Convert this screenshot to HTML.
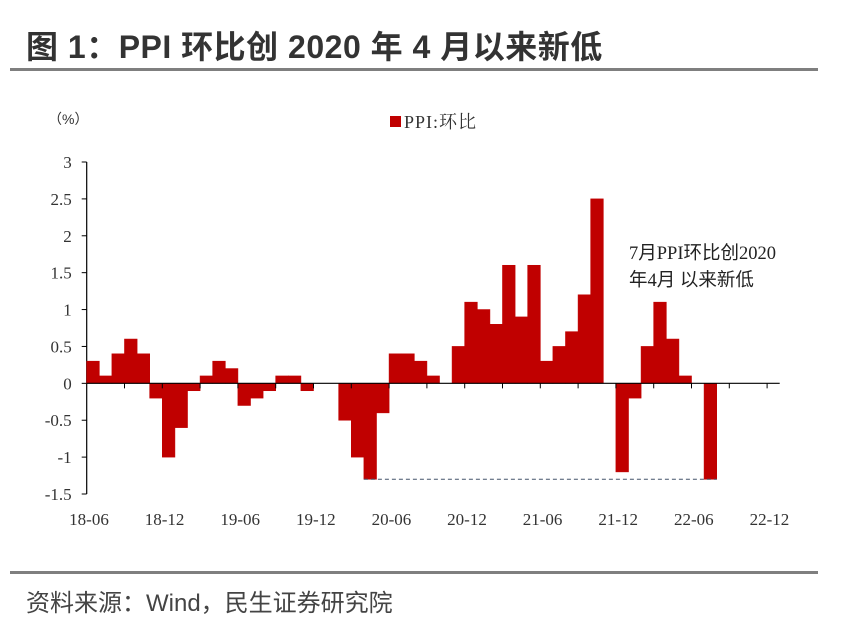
<!DOCTYPE html>
<html><head><meta charset="utf-8"><style>
body{margin:0;background:#fff;width:860px;height:627px;overflow:hidden;font-family:"Liberation Sans","Noto Sans CJK SC",sans-serif}
</style></head><body>
<div style="position:absolute;left:26px;top:22px;font-size:32px;font-weight:bold;color:#333;font-family:'Liberation Sans','Noto Sans CJK SC',sans-serif;letter-spacing:0.5px">图 1：PPI 环比创 2020 年 4 月以来新低</div>
<div style="position:absolute;left:10px;top:68px;width:808px;height:3px;background:#7f7f7f"></div>
<div style="position:absolute;left:10px;top:571px;width:808px;height:3px;background:#7f7f7f"></div>
<div style="position:absolute;left:26px;top:583px;font-size:24px;color:#444">资料来源：Wind，民生证券研究院</div>
<svg id="chart" width="860" height="627" style="position:absolute;left:0;top:0"></svg>
<script>
const categories=["18-06","18-07","18-08","18-09","18-10","18-11","18-12","19-01","19-02","19-03","19-04","19-05","19-06","19-07","19-08","19-09","19-10","19-11","19-12","20-01","20-02","20-03","20-04","20-05","20-06","20-07","20-08","20-09","20-10","20-11","20-12","21-01","21-02","21-03","21-04","21-05","21-06","21-07","21-08","21-09","21-10","21-11","21-12","22-01","22-02","22-03","22-04","22-05","22-06","22-07","22-08","22-09","22-10","22-11","22-12"];
const values=[0.3,0.1,0.4,0.6,0.4,-0.2,-1.0,-0.6,-0.1,0.1,0.3,0.2,-0.3,-0.2,-0.1,0.1,0.1,-0.1,0,0,-0.5,-1.0,-1.3,-0.4,0.4,0.4,0.3,0.1,0,0.5,1.1,1.0,0.8,1.6,0.9,1.6,0.3,0.5,0.7,1.2,2.5,0,-1.2,-0.2,0.5,1.1,0.6,0.1,0,-1.3,null,null,null,null,null];
const yTicks=[3,2.5,2,1.5,1,0.5,0,-0.5,-1,-1.5];
const yTickLabels=["3","2.5","2","1.5","1","0.5","0","-0.5","-1","-1.5"];
const xLabels=["18-06","18-12","19-06","19-12","20-06","20-12","21-06","21-12","22-06","22-12"];
const refLow=-1.3, refFrom="20-04", refTo="22-07";
const svg=document.getElementById('chart');
const NS='http://www.w3.org/2000/svg';
const x0=86.7,bw=12.6,yTop=162,yBot=494,vMax=3,vMin=-1.5;
function y(v){return yTop+(vMax-v)/(vMax-vMin)*(yBot-yTop);}
function xi(i){return x0+i*bw;}
function mk(t,a){const e=document.createElementNS(NS,t);for(const k in a)e.setAttribute(k,a[k]);svg.appendChild(e);return e;}
let ax=mk('line',{x1:x0,y1:yTop,x2:x0,y2:yBot,stroke:'#000','stroke-width':1.2});


yTicks.forEach((v,i)=>{
 let t=mk('line',{x1:x0-5,y1:y(v),x2:x0,y2:y(v),stroke:'#000'});
 
 
 let l=mk('text',{x:x0-15,y:y(v)+6,'text-anchor':'end','font-size':17,fill:'#333','font-family':'Liberation Serif, serif'});
 l.textContent=yTickLabels[i];
 
 
});
values.forEach((v,i)=>{
 if(v===null||v===0)return;
 const r=mk('rect',{x:xi(i),y:Math.min(y(v),y(0)),width:bw,height:Math.abs(y(v)-y(0)),fill:'#c00000',stroke:'#c00000','stroke-width':0.6});
 
 
});
let xa=mk('line',{x1:x0,y1:y(0),x2:xi(categories.length),y2:y(0),stroke:'#000','stroke-width':1.2});


for(let i=3;i<=categories.length;i+=3){
 let t=mk('line',{x1:xi(i),y1:y(0),x2:xi(i),y2:y(0)+5,stroke:'#000'});
 
 
}
xLabels.forEach(c=>{
 const i=categories.indexOf(c);
 let l=mk('text',{x:xi(i)+bw/2-4,y:525,'text-anchor':'middle','font-size':17,fill:'#333','font-family':'Liberation Serif, serif'});
 l.textContent=c;
 
 
});
let dl=mk('line',{x1:xi(categories.indexOf(refFrom)),y1:y(refLow),x2:xi(categories.indexOf(refTo)+1),y2:y(refLow),stroke:'#44546a','stroke-dasharray':'4,3','stroke-width':1});


let lr=mk('rect',{x:390,y:116,width:11,height:11,fill:'#c00000'});


let lt=mk('text',{x:404,y:128,'font-size':18,fill:'#333','font-family':'Liberation Serif, Noto Serif CJK SC, serif','letter-spacing':'1'});
lt.textContent='PPI:环比';


let un=mk('text',{x:48,y:124,'font-size':14,fill:'#333'});
un.textContent='（%）';


[['7月PPI环比创2020',259],['年4月 以来新低',286]].forEach(a=>{
 let t=mk('text',{x:629,y:a[1],'font-size':18.5,fill:'#222','font-family':'Liberation Serif, Noto Sans CJK SC, serif'});
 t.textContent=a[0];
 
 
});
</script>
</body></html>
